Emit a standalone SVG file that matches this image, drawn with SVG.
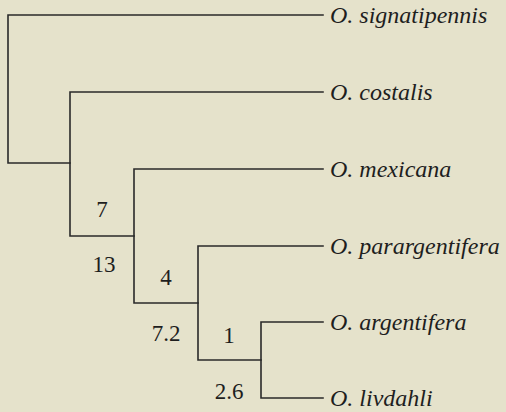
<svg xmlns="http://www.w3.org/2000/svg" width="506" height="412" viewBox="0 0 506 412" font-family="Tinos">
<rect width="506" height="412" fill="#e5e2cb"/>
<g id="connectors" fill="none" stroke="#2a2a2a" stroke-width="1.6" stroke-linecap="square">
<path d="M323,15 H8 V163 H70"/>
<path d="M323,92 H70 V236 H134"/>
<path d="M323,169 H134 V303 H198"/>
<path d="M323,246 H198 V360 H261"/>
<path d="M323,322 H261 V398 H323"/>
</g>
<g id="n-signatipennis" font-family="Tinos"><text x="330" y="23" font-family="Tinos" font-style="italic" font-size="24" fill="#1e1e1e">O. signatipennis</text></g>
<g id="n-costalis" font-family="Tinos"><text x="330" y="100" font-family="Tinos" font-style="italic" font-size="24" fill="#1e1e1e">O. costalis</text></g>
<g id="n-mexicana" font-family="Tinos"><text x="330" y="177" font-family="Tinos" font-style="italic" font-size="24" fill="#1e1e1e">O. mexicana</text></g>
<g id="n-parargentifera" font-family="Tinos"><text x="330" y="254" font-family="Tinos" font-style="italic" font-size="24" fill="#1e1e1e">O. parargentifera</text></g>
<g id="n-argentifera" font-family="Tinos"><text x="330" y="330" font-family="Tinos" font-style="italic" font-size="24" fill="#1e1e1e">O. argentifera</text></g>
<g id="n-livdahli" font-family="Tinos"><text x="330" y="406" font-family="Tinos" font-style="italic" font-size="24" fill="#1e1e1e">O. livdahli</text></g>
<g id="labels" font-family="Tinos">
<text x="102" y="217" font-family="Tinos" font-size="23" fill="#1e1e1e" text-anchor="middle">7</text>
<text x="104" y="272" font-family="Tinos" font-size="23" fill="#1e1e1e" text-anchor="middle">13</text>
<text x="166" y="285" font-family="Tinos" font-size="23" fill="#1e1e1e" text-anchor="middle">4</text>
<text x="166" y="341" font-family="Tinos" font-size="23" fill="#1e1e1e" text-anchor="middle">7.2</text>
<text x="229" y="343" font-family="Tinos" font-size="23" fill="#1e1e1e" text-anchor="middle">1</text>
<text x="229" y="399" font-family="Tinos" font-size="23" fill="#1e1e1e" text-anchor="middle">2.6</text>
</g>
</svg>
